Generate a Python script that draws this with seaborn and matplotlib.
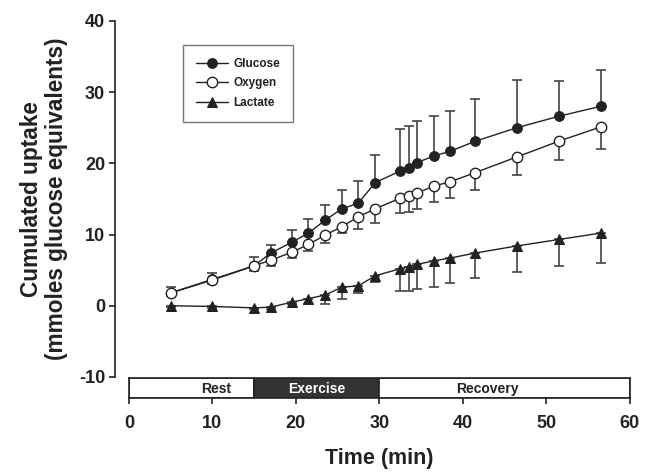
import numpy as np
import pandas as pd
import matplotlib
matplotlib.use("Agg")
import matplotlib.pyplot as plt
import seaborn as sns

# tempos de coleta (min)
tempo = [5, 10, 15, 17, 19.5, 21.5, 23.5, 25.5, 27.5, 29.5,
         32.5, 33.5, 34.5, 36.5, 38.5, 41.5, 46.5, 51.5, 56.5]

# captacao cumulada (mmoles equivalentes de glicose)
glicose = [1.8, 3.7, 5.6, 7.4, 8.9, 10.2, 12.0, 13.6, 14.4, 17.3,
           18.9, 19.4, 20.1, 21.0, 21.7, 23.1, 25.0, 26.6, 28.0]
glicose_err = [0.8, 0.9, 1.3, 1.1, 1.8, 2.0, 2.2, 2.6, 3.1, 3.9,
               5.9, 5.8, 5.9, 5.6, 5.7, 5.9, 6.7, 5.0, 5.1]

oxigenio = [1.8, 3.6, 5.6, 6.4, 7.5, 8.6, 9.9, 11.1, 12.5, 13.6,
            15.1, 15.4, 15.8, 16.8, 17.4, 18.7, 20.9, 23.1, 25.1]
oxigenio_err = [0.5, 0.6, 0.7, 0.8, 0.8, 0.9, 1.1, 0.9, 1.7, 2.0,
                2.1, 2.3, 2.2, 2.3, 2.3, 2.4, 2.5, 2.7, 3.1]

lactato = [0.0, -0.1, -0.3, -0.2, 0.5, 1.0, 1.5, 2.6, 2.8, 4.2,
           5.2, 5.5, 5.8, 6.3, 6.7, 7.4, 8.4, 9.3, 10.2]
lactato_err = [0.2, 0.2, 0.2, 0.2, 0.3, 0.7, 1.3, 1.7, 1.0, 0.8,
               3.1, 3.4, 3.4, 3.6, 3.5, 3.5, 3.6, 3.7, 4.2]

# fases do protocolo
fases = ["Rest", "Exercise", "Recovery"]
fase_inicio = [0, 15, 30]
fase_fim = [15, 30, 60]
fase_cor = ["white", "#333333", "white"]
fase_texto_cor = ["#222222", "white", "#222222"]
fase_texto_x = [10.5, 22.5, 43]

sns.set_style("ticks")
plt.rcParams['font.family'] = ['Liberation Sans', 'DejaVu Sans']
plt.rcParams['font.weight'] = 'bold'
plt.rcParams['axes.unicode_minus'] = False

dados = pd.DataFrame({"tempo": tempo, "Glucose": glicose, "Oxygen": oxigenio, "Lactate": lactato})

fig = plt.figure(figsize=(6.54, 4.73), dpi=100)
ax = fig.add_axes([0.197, 0.203, 0.766, 0.753])
ax2 = fig.add_axes([0.197, 0.1586, 0.766, 0.0423])

cinza = "#222222"

# barras de erro (so para um lado)
zeros = np.zeros(len(tempo))
ax.errorbar(tempo, glicose, yerr=[zeros, glicose_err], fmt="none", ecolor="#444444",
            elinewidth=1.2, capsize=3.5, capthick=1.2, zorder=1)
ax.errorbar(tempo, oxigenio, yerr=[oxigenio_err, zeros], fmt="none", ecolor="#444444",
            elinewidth=1.2, capsize=3.5, capthick=1.2, zorder=1)
ax.errorbar(tempo, lactato, yerr=[lactato_err, zeros], fmt="none", ecolor="#444444",
            elinewidth=1.2, capsize=3.5, capthick=1.2, zorder=1)

sns.lineplot(data=dados, x="tempo", y="Glucose", ax=ax, color=cinza, lw=1,
             marker="o", markersize=7, markerfacecolor=cinza, markeredgecolor=cinza,
             label="Glucose", zorder=3)
sns.lineplot(data=dados, x="tempo", y="Oxygen", ax=ax, color=cinza, lw=1,
             marker="o", markersize=7.5, markerfacecolor="white", markeredgecolor=cinza,
             markeredgewidth=1, label="Oxygen", zorder=3)
sns.lineplot(data=dados, x="tempo", y="Lactate", ax=ax, color=cinza, lw=1,
             marker="^", markersize=7, markerfacecolor=cinza, markeredgecolor=cinza,
             label="Lactate", zorder=3)

ax.set_xlim(0, 60)
ax.set_ylim(-10, 40)
ax.set_yticks([-10, 0, 10, 20, 30, 40])
ax.set_xticks([])
ax.set_xlabel("")
ax.set_ylabel("Cumulated uptake\n(mmoles glucose equivalents)", fontsize=16.3,
              fontweight="bold", color=cinza, labelpad=8, linespacing=1.1)
for s in ["top", "right", "bottom"]:
    ax.spines[s].set_visible(False)
ax.spines["left"].set_position(("outward", 10))
ax.spines["left"].set_linewidth(1.2)
ax.spines["left"].set_color(cinza)
ax.tick_params(axis="y", labelsize=13, length=4, width=1.2, colors=cinza, pad=3)
for t in ax.get_yticklabels():
    t.set_fontweight("bold")

leg = ax.legend(loc="upper left", bbox_to_anchor=(0.108, 0.933), frameon=True,
                fancybox=False, fontsize=8.5, handlelength=2.7, borderpad=1.1,
                labelspacing=0.65, handletextpad=0.5, borderaxespad=0)
leg.get_frame().set_edgecolor("#555555")
leg.get_frame().set_linewidth(1)
for t in leg.get_texts():
    t.set_fontweight("bold")
    t.set_color(cinza)

# barra das fases
larguras = [f - i for i, f in zip(fase_inicio, fase_fim)]
ax2.barh([0.5] * 3, larguras, left=fase_inicio, height=1, color=fase_cor,
         edgecolor=cinza, linewidth=1.2)
for nome, x, c in zip(fases, fase_texto_x, fase_texto_cor):
    ax2.text(x, 0.45, nome, ha="center", va="center", fontsize=10,
             fontweight="bold", color=c)
ax2.set_xlim(0, 60)
ax2.set_ylim(0, 1)
ax2.set_yticks([])
ax2.set_xticks([0, 10, 20, 30, 40, 50, 60])
for s in ax2.spines.values():
    s.set_linewidth(1.2)
    s.set_color(cinza)
ax2.tick_params(axis="x", labelsize=13, length=4, width=1.2, colors=cinza, pad=8)
for t in ax2.get_xticklabels():
    t.set_fontweight("bold")
ax2.set_xlabel("Time (min)", fontsize=15.5, fontweight="bold", color=cinza, labelpad=12)

fig.savefig("out.png", dpi=100)
